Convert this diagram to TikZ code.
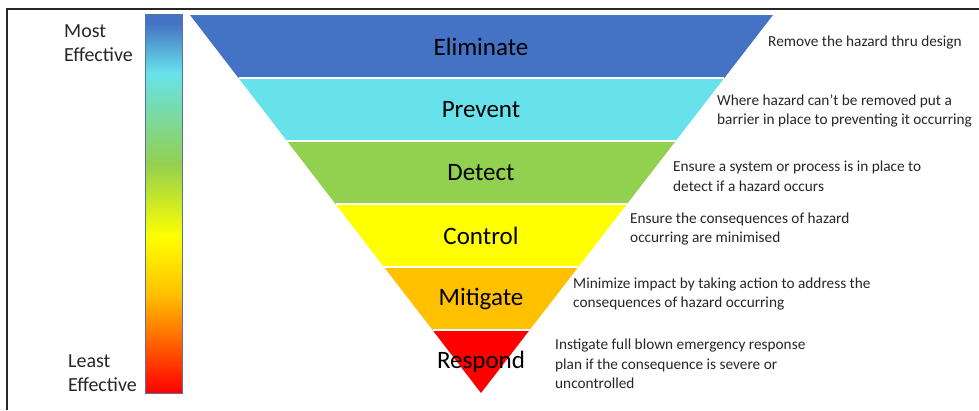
\documentclass[tikz,border=0pt]{standalone}
\usepackage{fontspec}
\setmainfont{Carlito}
\usetikzlibrary{calc}

\definecolor{elimblue}{HTML}{4472C4}
\definecolor{prevcyan}{HTML}{67E2EB}
\definecolor{detgreen}{HTML}{92D050}
\definecolor{ctrlyellow}{HTML}{FFFF00}
\definecolor{mitorange}{HTML}{FFC000}
\definecolor{respred}{HTML}{FF0000}
\definecolor{barframe}{HTML}{5470A8}

\pgfdeclareverticalshading{effect}{100bp}{color(0bp)=(respred); color(25bp)=(respred);
	color(38bp)=(mitorange); color(45.6bp)=(ctrlyellow); color(55.3bp)=(detgreen);
	color(67.2bp)=(prevcyan); color(73.8bp)=(elimblue); color(100bp)=(elimblue)}

\begin{document}
\begin{tikzpicture}[x=1pt,y=-1pt]
\tikzstyle{bandlabel}=[font=\fontsize{25}{30}\selectfont, text=black]
\tikzstyle{desc}=[anchor=west, align=left, inner sep=0pt,
	font=\fontsize{15.3}{19.5}\selectfont, text=black!85]
\tikzstyle{sidetext}=[anchor=west, align=left, inner sep=0pt,
	font=\fontsize{20}{23.5}\selectfont, text=black!85]
\useasboundingbox (0,0) rectangle (979,410);
\draw[line width=1.3pt, black!85] (7,410) -- (7,9) -- (979,9);

% effectiveness scale
\shade[shading=effect, draw=barframe, line width=1pt] (145,14) rectangle (182,393);
\node[sidetext] (most) at (64,43) {Most\\Effective};
\node[sidetext] (least) at (68,373) {Least\\Effective};

% the inverted triangle, one band per level
\coordinate (tl) at (190,15);
\coordinate (tr) at (773,15);
\coordinate (ap) at (481,393);
\foreach \name/\col/\lbl [count=\i from 0] in {eliminate/elimblue/Eliminate,
	prevent/prevcyan/Prevent, detect/detgreen/Detect, control/ctrlyellow/Control,
	mitigate/mitorange/Mitigate, respond/respred/Respond}
{
	\fill[\col] ($(tl)!\i/6!(ap)$) -- ($(tr)!\i/6!(ap)$)
		-- ($(tr)!{(\i+1)/6}!(ap)$) -- ($(tl)!{(\i+1)/6}!(ap)$) -- cycle;
	\node[bandlabel] (\name) at (481,{46.5+63*\i}) {\lbl};
}
\foreach \i in {1,...,5}
	\draw[white, line width=1.2pt] ($(tl)!\i/6!(ap)$) -- ($(tr)!\i/6!(ap)$);

\node[desc] (eliminate-txt) at (768,43) {Remove the hazard thru design};
\node[desc] (prevent-txt) at (717,111) {Where hazard can’t be removed put a\\barrier in place to preventing it occurring};
\node[desc] (detect-txt) at (673,176) {Ensure a system or process is in place to\\detect if a hazard occurs};
\node[desc] (control-txt) at (630,229) {Ensure the consequences of hazard\\occurring are minimised};
\node[desc] (mitigate-txt) at (573,294) {Minimize impact by taking action to address the\\consequences of hazard occurring};
\node[desc] (respond-txt) at (555,364) {Instigate full blown emergency response\\plan if the consequence is severe or\\uncontrolled};
\end{tikzpicture}
\end{document}
